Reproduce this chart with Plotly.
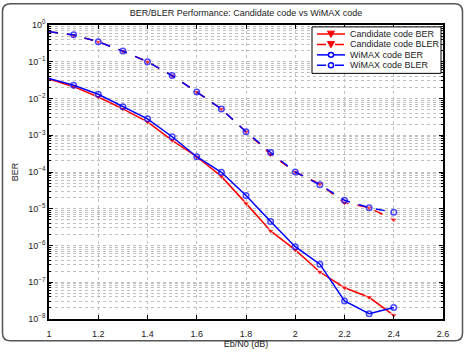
import plotly.graph_objects as go

ebn0 = [1.0, 1.1, 1.2, 1.3, 1.4, 1.5, 1.6, 1.7, 1.8, 1.9, 2.0, 2.1, 2.2, 2.3, 2.4]
cand_ber = [0.034, 0.021, 0.011, 0.0052, 0.0023, 7.3e-4, 2.6e-4, 7.6e-5, 1.4e-5, 2.5e-6, 7.6e-7, 1.9e-7, 7.1e-8, 3.9e-8, 1.26e-8]
cand_bler = [0.66, 0.53, 0.35, 0.195, 0.10, 0.042, 0.015, 0.0052, 0.00125, 3.0e-4, 1.0e-4, 4.7e-5, 1.45e-5, 1.07e-5, 5.0e-6]
wimax_ber = [0.035, 0.023, 0.013, 0.006, 0.0028, 9.1e-4, 2.6e-4, 9.8e-5, 2.3e-5, 4.5e-6, 9.3e-7, 3.1e-7, 3.1e-8, 1.4e-8, 2.05e-8]
wimax_bler = [0.66, 0.54, 0.35, 0.195, 0.10, 0.042, 0.015, 0.0052, 0.00125, 3.4e-4, 1.0e-4, 4.5e-5, 1.7e-5, 1.07e-5, 8.0e-6]

series_names = ["Candidate code BER", "Candidate code BLER", "WiMAX code BER", "WiMAX code BLER"]

ytickvals = [1e0, 1e-1, 1e-2, 1e-3, 1e-4, 1e-5, 1e-6, 1e-7, 1e-8]
yticktext = ["10<sup>0</sup>", "10<sup>−1</sup>", "10<sup>−2</sup>", "10<sup>−3</sup>", "10<sup>−4</sup>",
             "10<sup>−5</sup>", "10<sup>−6</sup>", "10<sup>−7</sup>", "10<sup>−8</sup>"]
xtickvals = [1, 1.2, 1.4, 1.6, 1.8, 2, 2.2, 2.4, 2.6]
xticktext = ["1", "1.2", "1.4", "1.6", "1.8", "2", "2.2", "2.4", "2.6"]

RED = "#ff0000"
BLUE = "#0000ff"
TXT = "#222222"
W, H = 467, 360
ML, MR, MT, MB = 49, 24, 25, 25
PW, PH = W - ML - MR, H - MT - MB


def px(x):
    return (x - ML) / PW


def py(y):
    return (H - MB - y) / PH


msizes_tri = [0] + [6.5] * (len(ebn0) - 1)
msizes_circ = [0] + [5.5] * (len(ebn0) - 1)

styles = [
    (cand_ber, RED, "solid", "tri"),
    (cand_bler, RED, "dash", "tri"),
    (wimax_ber, BLUE, "solid", "circ"),
    (wimax_bler, BLUE, "dash", "circ"),
]

fig = go.Figure()
for (vals, col, dash, mk), name in zip(styles, series_names):
    if mk == "tri":
        marker = dict(symbol="triangle-down", size=msizes_tri, color=col)
    else:
        marker = dict(symbol="circle-open", size=msizes_circ, color=col, line=dict(width=1.5, color=col))
    fig.add_trace(go.Scatter(x=ebn0, y=vals, mode="lines+markers", name=name,
                             line=dict(color=col, width=1.5, dash=dash), marker=marker,
                             showlegend=False))

# custom legend (box, line samples, marker samples, labels)
shapes = []
annotations = []
lx0, lx1, ly0, ly1 = 312, 441, 27, 76
shapes.append(dict(type="rect", xref="paper", yref="paper", x0=px(lx0), x1=px(lx1), y0=py(ly1), y1=py(ly0),
                   line=dict(color="black", width=1), fillcolor="white", layer="above"))
row_y = [34.5, 45.5, 56.5, 67.5]
for (vals, col, dash, mk), name, ry in zip(styles, series_names, row_y):
    shapes.append(dict(type="line", xref="paper", yref="paper", x0=px(317), x1=px(345), y0=py(ry), y1=py(ry),
                       line=dict(color=col, width=1.5, dash="dash" if dash == "dash" else "solid"),
                       layer="above"))
    cx = 331
    if mk == "tri":
        path = "M {:.5f},{:.5f} L {:.5f},{:.5f} L {:.5f},{:.5f} Z".format(
            px(cx - 3.5), py(ry - 3), px(cx + 3.5), py(ry - 3), px(cx), py(ry + 3.5))
        shapes.append(dict(type="path", xref="paper", yref="paper", path=path,
                           line=dict(color=col, width=1), fillcolor=col, layer="above"))
    else:
        shapes.append(dict(type="circle", xref="paper", yref="paper", x0=px(cx - 2.6), x1=px(cx + 2.6),
                           y0=py(ry + 2.6), y1=py(ry - 2.6), line=dict(color=col, width=1.5),
                           fillcolor="white", layer="above"))
    annotations.append(dict(text=name, xref="paper", yref="paper", x=px(348), y=py(ry), xanchor="left",
                            yanchor="middle", showarrow=False, font=dict(size=9, color=TXT)))

# rounded figure frame
fx0, fx1, fy0, fy1, r = 2.5, 462.5, 2.5, 358, 8
frame = ("M {a},{b} L {a},{c} Q {a},{d} {e},{d} L {f},{d} Q {g},{d} {g},{c} L {g},{b} "
         "Q {g},{h} {f},{h} L {e},{h} Q {a},{h} {a},{b} Z").format(
    a=px(fx0), b=py(fy0 + r), c=py(fy1 - r), d=py(fy1), e=px(fx0 + r), f=px(fx1 - r), g=px(fx1), h=py(fy0))
shapes.append(dict(type="path", xref="paper", yref="paper", path=frame,
                   line=dict(color="#555555", width=1.5), layer="below"))

font = "Liberation Sans, Arial, sans-serif"
fig.update_layout(
    width=W, height=H,
    margin=dict(l=ML, r=MR, t=MT, b=MB),
    paper_bgcolor="white", plot_bgcolor="white",
    font=dict(family=font, size=9, color=TXT),
    title=dict(text="BER/BLER Performance: Candidate code vs WiMAX code", x=0.5, xref="paper",
               y=0.972, yref="container", xanchor="center", font=dict(size=9, color=TXT)),
    showlegend=False,
    xaxis=dict(range=[1, 2.6], tickvals=xtickvals, ticktext=xticktext,
               showline=True, linecolor="black", linewidth=1.5, mirror="allticks",
               ticks="inside", ticklen=4, tickcolor="black", ticklabelstandoff=5,
               showgrid=True, gridcolor="#c0c0c0", griddash="dot", gridwidth=1,
               zeroline=False,
               title=dict(text="Eb/N0 (dB)", standoff=3, font=dict(size=9))),
    yaxis=dict(type="log", range=[-8, 0], tickvals=ytickvals, ticktext=yticktext,
               showline=True, linecolor="black", linewidth=1.5, mirror="allticks",
               ticks="inside", ticklen=4, tickcolor="black",
               showgrid=True, gridcolor="#c0c0c0", griddash="dot", gridwidth=1,
               zeroline=False,
               minor=dict(dtick="D1", showgrid=True, gridcolor="#c0c0c0", griddash="dot",
                          ticks="inside", ticklen=2, tickcolor="black"),
               title=dict(text="BER", standoff=8, font=dict(size=9))),
    shapes=shapes,
    annotations=annotations,
)

fig.write_html("out.html")
